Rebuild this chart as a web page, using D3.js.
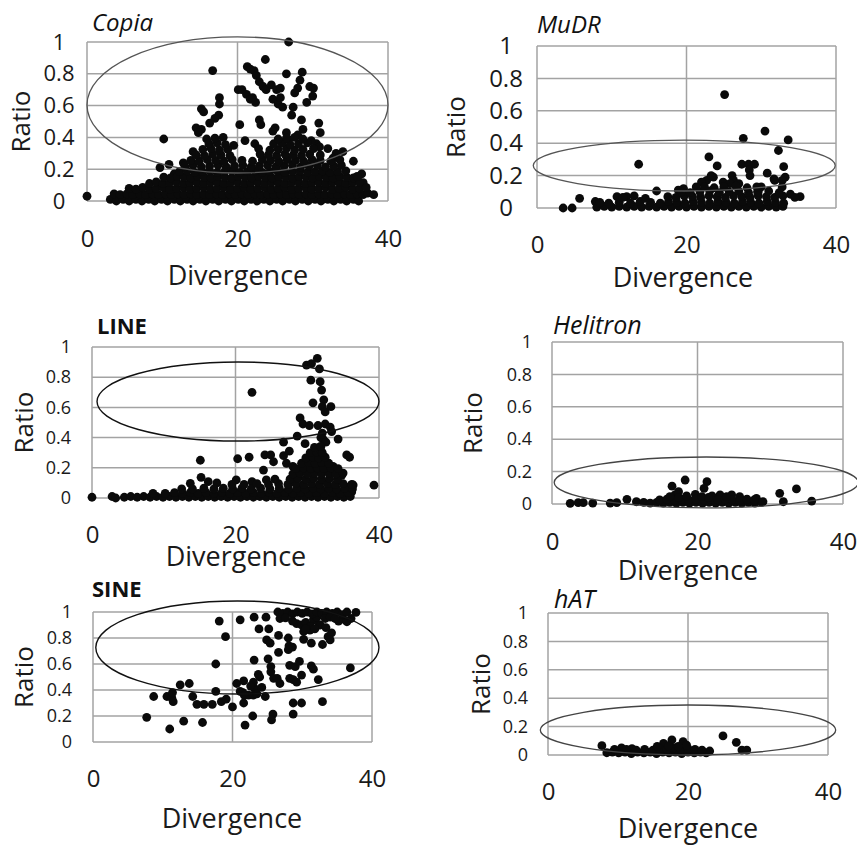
<!DOCTYPE html>
<html><head><meta charset="utf-8">
<script src="https://cdn.jsdelivr.net/npm/d3@7"></script>
<style>body{margin:0;background:#fff}</style>
</head><body><svg id="c" width="857" height="846"></svg>
<script>
const xTicks=[0,20,40];
const yTicks=[0,0.2,0.4,0.6,0.8,1];
const titles=["Copia","MuDR","LINE","Helitron","SINE","hAT"];
const xLabel="Divergence", yLabel="Ratio";

const copiaPoints=[
[0,0.03],[26.8,1.0],[23.7,0.89],[16.7,0.82],[21.3,0.845],[21.7,0.83],[22.2,0.82],[22.5,0.79],[22.9,0.75],[23.4,0.72],[23.8,0.70],[26.5,0.80],[28.6,0.81],[28.3,0.76],[28.0,0.71],[27.6,0.68],[29.6,0.72],[30.1,0.71],[30.0,0.66],[29.2,0.62],[20.1,0.70],[20.6,0.70],[21.2,0.67],[21.7,0.64],[22.4,0.62],[22.0,0.65],[24.5,0.73],[25.2,0.70],[25.7,0.71],[24.7,0.64],[25.4,0.61],[26.0,0.59],[25.7,0.65],[27.4,0.59],[27.2,0.54],[28.5,0.51],[17.6,0.65],[17.6,0.61],[17.5,0.54],[17.0,0.52],[16.3,0.49],[15.2,0.58],[15.5,0.56],[20.3,0.48],[22.9,0.51],[23.1,0.48],[14.5,0.46],[15.2,0.45],[14.8,0.43],[15.9,0.39],[10.2,0.39],[30.8,0.49],[31.0,0.43],[28.7,0.45],[25.0,0.46],[26.5,0.43],[30.5,0.36],[35.4,0.25],[9.7,0.21],[10.9,0.23],[12.8,0.24],[11.6,0.17],[14.1,0.31],[24.7,0.44],[26.7,0.39],[28.0,0.415],[29.8,0.38],[30.9,0.34],[32.0,0.33],[33.1,0.30],[34.0,0.31],[32.7,0.27],[19.5,0.35],[21.0,0.38],[22.3,0.36],[36.5,0.17],[36.7,0.115],
[3.1,.01],[3.9,.0],[4.8,.01],[5.6,.0],[6.5,.01],[7.3,.0],[8.2,.01],[9.0,.0],[9.9,.01],[10.7,.0],[11.6,.01],[12.4,.0],[13.3,.01],[14.1,.0],[15.0,.01],[15.8,.0],[16.7,.01],[17.5,.0],[18.4,.01],[19.2,.0],[20.1,.01],[20.9,.0],[21.8,.01],[22.6,.0],[23.5,.01],[24.3,.0],[25.2,.01],[26.0,.0],[26.9,.01],[27.7,.0],[28.6,.01],[29.4,.0],[30.3,.01],[31.1,.0],[32.0,.01],[32.8,.0],[33.7,.01],[34.5,.0],[35.4,.01],[36.1,.0],
[3.6,.045],[4.4,.04],[5.3,.045],[6.1,.04],[7.0,.045],[7.8,.04],[8.7,.045],[9.5,.04],[10.4,.045],[11.2,.04],[12.1,.045],[12.9,.04],[13.8,.045],[14.6,.04],[15.5,.045],[16.3,.04],[17.2,.045],[18.0,.04],[18.9,.045],[19.7,.04],[20.6,.045],[21.4,.04],[22.3,.045],[23.1,.04],[24.0,.045],[24.8,.04],[25.7,.045],[26.5,.04],[27.4,.045],[28.2,.04],[29.1,.045],[29.9,.04],[30.8,.045],[31.6,.04],[32.5,.045],[33.3,.04],[34.2,.045],[35.0,.04],[35.9,.045],[36.7,.04],[37.3,.05],[38.1,.04],
[5.6,.08],[6.5,.075],[7.4,.085],[8.3,.075],[9.2,.08],[10.1,.085],[11.0,.075],[11.9,.08],[12.8,.085],[13.7,.075],[14.6,.08],[15.5,.085],[16.4,.075],[17.3,.08],[18.2,.085],[19.1,.075],[20.0,.08],[20.9,.085],[21.8,.075],[22.7,.08],[23.6,.085],[24.5,.075],[25.4,.08],[26.3,.085],[27.2,.075],[28.1,.08],[29.0,.085],[29.9,.075],[30.8,.08],[31.7,.085],[32.6,.075],[33.5,.08],[34.4,.085],[35.3,.075],[36.2,.08],[37.1,.085],
[8.3,.11],[9.2,.12],[10.1,.11],[11.0,.115],[11.9,.12],[12.8,.11],[13.7,.115],[14.6,.12],[15.5,.11],[16.4,.115],[17.3,.12],[18.2,.11],[19.1,.115],[20.0,.12],[20.9,.11],[21.8,.115],[22.7,.12],[23.6,.11],[24.5,.115],[25.4,.12],[26.3,.11],[27.2,.115],[28.1,.12],[29.0,.11],[29.9,.115],[30.8,.12],[31.7,.11],[32.6,.115],[33.5,.12],[34.4,.11],[35.3,.115],[36.2,.12],
[10.2,.15],[11.1,.145],[12.0,.155],[12.9,.15],[13.8,.145],[14.7,.155],[15.6,.15],[16.5,.145],[17.4,.155],[18.3,.15],[19.2,.145],[20.1,.155],[21.0,.15],[21.9,.145],[22.8,.155],[23.7,.15],[24.6,.145],[25.5,.155],[26.4,.15],[27.3,.145],[28.2,.155],[29.1,.15],[30.0,.145],[30.9,.155],[31.8,.15],[32.7,.145],[33.6,.155],[34.5,.15],[35.4,.145],[35.9,.155],
[12.3,.185],[13.3,.19],[14.3,.18],[15.3,.185],[16.3,.19],[17.3,.18],[18.3,.185],[19.3,.19],[20.3,.18],[21.3,.185],[22.3,.19],[23.3,.18],[24.3,.185],[25.3,.19],[26.3,.18],[27.3,.185],[28.3,.19],[29.3,.18],[30.3,.185],[31.3,.19],[32.3,.18],[33.3,.185],[34.4,.19],
[13.0,.22],[14.1,.225],[15.2,.215],[16.3,.22],[17.4,.225],[18.5,.215],[19.6,.22],[20.7,.225],[21.8,.215],[22.9,.22],[24.0,.225],[25.1,.215],[26.2,.22],[27.3,.225],[28.4,.215],[29.5,.22],[30.6,.225],[31.7,.215],[32.8,.22],[33.8,.225],
[13.8,.255],[14.9,.25],[16.0,.26],[17.1,.255],[18.2,.25],[19.3,.26],[20.6,.255],[22.0,.25],[23.3,.26],[24.4,.255],[25.5,.25],[26.6,.26],[27.7,.255],[28.8,.25],[29.9,.26],[31.0,.255],[32.4,.25],[33.6,.26],
[14.5,.29],[15.6,.285],[16.7,.295],[17.8,.29],[19.0,.285],[23.0,.295],[24.1,.29],[25.2,.285],[26.3,.295],[27.4,.29],[28.5,.285],[29.6,.295],[31.0,.29],
[15.4,.325],[16.5,.33],[17.6,.32],[18.7,.325],[22.8,.33],[24.3,.32],[25.4,.325],[26.5,.33],[27.6,.32],[28.7,.325],[30.1,.33],
[16.2,.36],[17.3,.365],[18.4,.355],[24.8,.36],[25.9,.365],[27.0,.355],[28.1,.36],[29.3,.365],
[17.0,.395],[18.1,.4],[25.4,.39],[26.5,.395],[27.6,.4],[28.7,.39]
];
const mudrPoints=[
[25.1,.70],[30.5,.475],[27.6,.43],[33.6,.42],[32.3,.355],[13.6,.27],[23.0,.315],[24.1,.26],[27.4,.27],[28.3,.27],[29.1,.27],[33.0,.255],[28.4,.235],[28.5,.20],[30.8,.215],[31.7,.18],[33.2,.19],[26.1,.20],[26.3,.17],[23.6,.19],[22.7,.17],[22.0,.16],[23.3,.20],[19.6,.12],[16.0,.105],[5.7,.06],[3.5,0],[4.7,0],[35.2,.07],[33.9,.085],[34.5,.065],[7.8,.04],[10.7,.07],[12.0,.07],[13.0,.075],[24.9,.16],[25.8,.15],[32.8,.17],[31.8,.17],[30.0,.13],[27.0,.15],[29.5,.10],[21.3,.13],[18.9,.11],
[8.0,.005],[9.0,.01],[10.0,.005],[11.0,.01],[12.0,.005],[13.0,.01],[14.0,.005],[15.0,.01],[16.0,.005],[17.0,.01],[18.0,.005],[19.0,.01],[20.0,.005],[21.0,.01],[22.0,.005],[23.0,.01],[24.0,.005],[25.0,.01],[26.0,.005],[27.0,.01],[28.0,.005],[29.0,.01],[30.0,.005],[31.0,.01],[32.0,.005],[32.9,.01],
[8.4,.035],[9.6,.03],[11.0,.035],[12.5,.03],[13.8,.04],[15.2,.035],[16.5,.03],[17.6,.04],[18.7,.035],[19.8,.03],[20.9,.04],[22.0,.035],[23.1,.03],[24.2,.04],[25.3,.035],[26.4,.03],[27.5,.04],[28.6,.035],[29.7,.03],[30.8,.04],[31.9,.035],[33.0,.03],
[11.5,.065],[14.5,.06],[17.5,.07],[18.6,.065],[19.7,.075],[20.8,.07],[21.9,.065],[23.0,.075],[24.1,.07],[25.2,.065],[26.3,.075],[27.4,.07],[28.5,.065],[29.6,.075],[30.7,.07],[31.8,.065],[32.9,.075],
[19.3,.10],[20.5,.095],[21.8,.10],[23.1,.105],[24.4,.095],[25.7,.10],[27.0,.105],[28.3,.095],[29.6,.10],[31.0,.105],[32.4,.095],
[22.4,.13],[23.7,.125],[25.0,.13],[26.6,.135],[28.1,.125],[29.4,.13],[32.8,.13]
];
const linePoints=[
[31.4,.925],[29.9,.88],[30.6,.89],[31.7,.855],[30.5,.78],[31.8,.77],[32.0,.715],[30.8,.63],[32.3,.65],[32.1,.605],[33.3,.605],[32.5,.57],[22.3,.70],[29.0,.53],[29.4,.49],[30.3,.48],[31.5,.48],[32.5,.49],[33.2,.47],[33.4,.44],[28.6,.41],[32.1,.43],[34.3,.39],[26.7,.37],[29.7,.36],[31.8,.34],[15.1,.25],[20.3,.26],[21.9,.27],[24.1,.285],[24.9,.285],[25.3,.24],[23.9,.185],[26.7,.28],[27.1,.23],[28.0,.21],[27.5,.31],[35.5,.285],[35.9,.27],[39.3,.085],[0,.005],[2.8,.01],[3.3,0],[13.7,.097],[15.2,.137],[16.2,.108],[17.4,.10],[20.1,.12],[22.3,.108],[24.3,.12],[35.3,.075],[36.2,.04],[36.4,.086],[34.8,.15],[33.6,.21],[32.2,.39],[31.9,.40],[32.6,.37],
[4.5,.005],[5.4,.01],[6.3,.005],[7.2,.01],[8.1,.005],[9.0,.01],[9.9,.005],[10.8,.01],[11.7,.005],[12.6,.01],[13.5,.005],[14.4,.01],[15.3,.005],[16.2,.01],[17.1,.005],[18.0,.01],[18.9,.005],[19.8,.01],[20.7,.005],[21.6,.01],[22.5,.005],[23.4,.01],[24.3,.005],[25.2,.01],[26.1,.005],[27.0,.01],[27.9,.005],[28.8,.01],[29.7,.005],[30.6,.01],[31.5,.005],[32.4,.01],[33.3,.005],[34.2,.01],[35.1,.005],[36.0,.01],
[8.5,.03],[10.2,.03],[11.5,.035],[12.6,.03],[13.7,.035],[14.8,.03],[15.9,.035],[17.0,.03],[18.1,.035],[19.2,.03],[20.3,.035],[21.4,.03],[22.5,.035],[23.6,.03],[24.7,.035],[25.8,.03],[26.9,.035],[28.0,.03],[29.1,.035],[30.2,.03],[31.3,.035],[32.4,.03],[33.5,.035],[34.6,.03],[35.7,.035],
[12.5,.06],[14.0,.06],[15.6,.065],[17.0,.06],[18.3,.065],[19.6,.06],[20.9,.065],[22.2,.06],[23.5,.065],[24.8,.06],[26.1,.065],[27.4,.06],[28.6,.065],[29.7,.06],[30.8,.065],[31.9,.06],[33.0,.065],[34.1,.06],[35.2,.065],[36.3,.06],
[19.5,.09],[21.2,.09],[23.0,.095],[24.6,.09],[26.0,.095],[27.3,.09],[28.4,.095],[29.5,.09],[30.6,.095],[31.7,.09],[32.8,.095],[33.9,.09],[35.0,.095],[36.2,.09],
[25.5,.125],[27.6,.125],[28.7,.13],[29.8,.125],[30.9,.13],[32.0,.125],[33.1,.13],[34.2,.125],
[28.0,.16],[29.0,.165],[30.0,.16],[31.0,.165],[32.0,.16],[33.0,.165],[34.0,.16],[35.0,.165],
[28.4,.195],[29.5,.2],[30.5,.195],[31.4,.2],[32.3,.195],[33.3,.2],[34.3,.195],
[29.2,.23],[30.2,.235],[31.1,.23],[32.0,.235],[33.0,.23],
[29.8,.265],[30.8,.27],[31.6,.265],[32.5,.27],
[30.4,.3],[31.3,.305],[32.1,.3],
[31.0,.335],[31.9,.34]
];
const helitronPoints=[
[18.3,.148],[16.5,.11],[21.3,.138],[20.9,.097],[33.6,.093],[31.3,.066],[31.8,.014],[35.7,.018],[2.5,.004],[3.6,.008],[4.3,.008],[5.6,.006],[8.0,.006],[8.9,.008],[10.3,.029],[11.6,.014],[23.1,.056],[24.7,.056],[25.8,.045],[28.1,.035],[29.0,.014],[16.9,.056],[17.4,.076],[19.7,.06],[22.0,.05],
[12.6,.01],[13.5,.005],[14.4,.01],[15.3,.005],[16.2,.01],[17.1,.005],[18.0,.01],[18.9,.005],[19.8,.01],[20.7,.005],[21.6,.01],[22.5,.005],[23.4,.01],[24.3,.005],[25.2,.01],[26.1,.005],[27.0,.01],[27.9,.005],[28.8,.01],
[14.8,.025],[15.8,.03],[16.8,.025],[17.8,.03],[18.8,.025],[19.8,.03],[20.8,.025],[21.8,.03],[22.8,.025],[23.8,.03],[24.8,.025],[25.8,.02],[26.8,.03],[27.8,.025],
[16.2,.045],[17.4,.04],[18.5,.05],[20.6,.045],[21.5,.04],[24.0,.045]
];
const sinePoints=[
[7.7,.19],[8.7,.35],[11.0,.10],[10.6,.35],[11.3,.34],[11.4,.38],[11.5,.31],[12.5,.44],[13.8,.45],[13.0,.16],[14.3,.35],[14.9,.29],[15.9,.29],[15.7,.15],[17.1,.29],[17.6,.39],[17.6,.60],[18.1,.93],[19.0,.81],[18.4,.31],[19.1,.33],[20.0,.27],[21.1,.94],[23.1,.96],[24.8,.96],[23.8,.87],[25.2,.87],[20.6,.45],[21.6,.47],[21.5,.38],[21.1,.39],[21.6,.30],[21.8,.13],[22.9,.20],[23.1,.63],[23.0,.46],[23.2,.41],[22.3,.36],[23.7,.52],[23.0,.36],[23.5,.37],[24.7,.35],[23.9,.50],[24.9,.785],[25.4,.76],[25.1,.64],[25.5,.58],[25.5,.54],[25.9,.49],[25.8,.215],[25.6,.17],[26.8,.95],[26.6,.82],[26.6,.69],[26.8,.45],[26.4,.49],[28.0,.80],[28.1,.74],[28.6,.73],[28.0,.71],[28.2,.59],[29.0,.58],[29.6,.62],[28.2,.49],[28.7,.48],[28.7,.215],[28.7,.30],[29.9,.30],[29.2,.91],[29.9,.90],[30.2,.85],[30.9,.89],[31.1,.86],[31.6,.94],[32.4,.90],[35.9,.945],[35.2,.93],[36.4,.925],[32.1,.96],[30.2,.79],[31.3,.76],[32.9,.75],[29.9,.515],[31.3,.585],[31.6,.56],[32.3,.48],[32.9,.31],[33.7,.81],[34.2,.84],[34.0,.785],[36.9,.57],[29.2,.46],
[26.5,1.0],[27.2,.99],[27.9,1.0],[28.6,.985],[29.3,1.0],[30.0,.99],[30.7,1.0],[31.4,.985],[32.1,1.0],[32.8,.99],[33.5,1.0],[34.3,.99],[35.0,1.0],[35.7,.98],[36.4,1.0],[37.7,.997],
[27.6,.955],[28.6,.93],[30.5,.92],[31.2,.89],[32.6,.90],[33.3,.95],[34.0,.96],[34.7,.95],[37.0,.95],[31.8,.87],[33.4,.88],[30.5,.87],[21.7,.36],[22.6,.43],[24.2,.42]
];
const hatPoints=[
[25.0,.134],[26.9,.089],[27.7,.035],[28.4,.035],[17.7,.106],[19.3,.094],[7.7,.066],[8.4,.016],[23.1,.028],[16.5,.082],[10.5,.05],[12.0,.045],
[9.2,.02],[10.1,.015],[11.0,.02],[11.9,.01],[12.8,.02],[13.7,.015],[14.6,.02],[15.5,.01],[16.4,.02],[17.3,.015],[18.2,.02],[19.1,.01],[20.0,.02],[20.9,.015],[21.8,.02],[22.6,.015],
[9.5,.04],[11.2,.04],[12.6,.035],[13.8,.04],[15.0,.035],[16.0,.045],[17.0,.04],[18.0,.05],[19.0,.04],[20.0,.045],[21.0,.04],[22.0,.035],
[15.6,.06],[17.2,.065],[18.6,.06],[19.8,.07]
];
// ellipses: [cx, cy, rx, ry] in data units
const copiaEllipse=[20.0,0.604,20.0,0.428];
const mudrEllipse=[19.7,0.262,20.2,0.157];
const lineEllipse=[20.35,0.639,19.65,0.262];
const helitronEllipse=[21.2,0.133,20.9,0.157];
const sineEllipse=[20.7,0.727,20.3,0.358];
const hatEllipse=[20.0,0.176,21.1,0.176];

const datasets=[copiaPoints,mudrPoints,linePoints,helitronPoints,sinePoints,hatPoints];
const ellipseList=[copiaEllipse,mudrEllipse,lineEllipse,helitronEllipse,sineEllipse,hatEllipse];

// yAnchor: "middle" => labels centred at yPos; "end" => right-aligned at yPos
const layout=[
 {box:[87,388,42,201], title:[92,31], ts:"italic", tw:400, tf:24, yFont:22, yAnchor:"middle", yPos:59, xBase:247, divBase:285, divX:238, ratioX:20, ec:"#555", ew:1.3},
 {box:[537,836,46,208], title:[537,33], ts:"italic", tw:400, tf:24, yFont:24, yAnchor:"middle", yPos:506, xBase:253, divBase:287, divX:683, ratioX:455, ec:"#555", ew:1.3},
 {box:[92,379,347,498], title:[97,334], ts:"normal", tw:700, tf:22, yFont:18, yAnchor:"end", yPos:71, xBase:543, divBase:566, divX:236, ratioX:23, ec:"#111", ew:1.4},
 {box:[552,843,342,504], title:[553,334], ts:"italic", tw:400, tf:25, yFont:18, yAnchor:"end", yPos:532, xBase:550, divBase:580, divX:688, ratioX:472, ec:"#444", ew:1.3},
 {box:[93,372,612,742], title:[92,597], ts:"normal", tw:700, tf:22, yFont:18, yAnchor:"end", yPos:72, xBase:787, divBase:828, divX:232, ratioX:23, ec:"#111", ew:1.4},
 {box:[548,828,613,755], title:[554,608], ts:"italic", tw:400, tf:25, yFont:18, yAnchor:"end", yPos:528, xBase:800, divBase:838, divX:688, ratioX:480, ec:"#444", ew:1.3}
];
const FONT="'Open Sans', 'DejaVu Sans', sans-serif";
const svg=d3.select("#c");
const fmt=d=>(d===0||d===1)?String(d):d.toFixed(1);

titles.forEach((t,i)=>{
 const L=layout[i]; const [x0,x1,top,bot]=L.box;
 const x=d3.scaleLinear().domain([0,40]).range([x0,x1]);
 const y=d3.scaleLinear().domain([0,1]).range([bot,top]);
 const g=svg.append("g");
 g.selectAll("line.h").data(yTicks).join("line").attr("class","h")
  .attr("x1",x0).attr("x2",x1).attr("y1",d=>y(d)).attr("y2",d=>y(d))
  .attr("stroke","#a3a3a3").attr("stroke-width",1.5);
 g.selectAll("line.v").data(xTicks).join("line").attr("class","v")
  .attr("x1",d=>x(d)).attr("x2",d=>x(d)).attr("y1",top).attr("y2",bot)
  .attr("stroke","#a3a3a3").attr("stroke-width",1.5);
 // y axis labels
 const yg=g.append("g").attr("transform",`translate(${x0},0)`)
  .call(d3.axisLeft(y).tickValues(yTicks).tickSize(0).tickFormat(fmt));
 yg.select(".domain").remove();
 yg.attr("font-family",null).attr("font-size",null).attr("text-anchor",null);
 yg.selectAll("text").attr("font-family",FONT).attr("font-size",L.yFont).attr("fill","#1a1a1a")
  .attr("text-anchor",L.yAnchor).attr("x",L.yPos-x0);
 // x axis labels
 const xg=g.append("g").attr("transform",`translate(0,${bot})`)
  .call(d3.axisBottom(x).tickValues(xTicks).tickSize(0).tickFormat(d3.format("d")));
 xg.select(".domain").remove();
 xg.attr("font-family",null).attr("font-size",null);
 xg.selectAll("text").attr("font-family",FONT).attr("font-size",24).attr("fill","#1a1a1a")
  .attr("y",L.xBase-bot).attr("dy",0);
 // points
 g.append("g").selectAll("circle").data(datasets[i]).join("circle")
  .attr("cx",d=>x(d[0])).attr("cy",d=>y(d[1])).attr("r",4.4).attr("fill","#0a0a0a");
 // ellipse
 const e=ellipseList[i];
 g.append("ellipse").attr("cx",x(e[0])).attr("cy",y(e[1]))
  .attr("rx",x(e[0]+e[2])-x(e[0])).attr("ry",y(e[1])-y(e[1]+e[3]))
  .attr("fill","none").attr("stroke",L.ec).attr("stroke-width",L.ew);
 // title
 g.append("text").attr("x",L.title[0]).attr("y",L.title[1]).text(t)
  .attr("font-family",FONT).attr("font-size",L.tf).attr("font-style",L.ts).attr("font-weight",L.tw).attr("fill","#111");
 // axis titles
 g.append("text").attr("x",L.divX).attr("y",L.divBase).attr("text-anchor","middle").text(xLabel)
  .attr("font-family",FONT).attr("font-size",27).attr("fill","#1a1a1a");
 g.append("text").attr("transform",`translate(${L.ratioX},${(top+bot)/2}) rotate(-90)`)
  .attr("text-anchor","middle").attr("dominant-baseline","central").text(yLabel)
  .attr("font-family",FONT).attr("font-size",26).attr("fill","#1a1a1a");
});
</script></body></html>
